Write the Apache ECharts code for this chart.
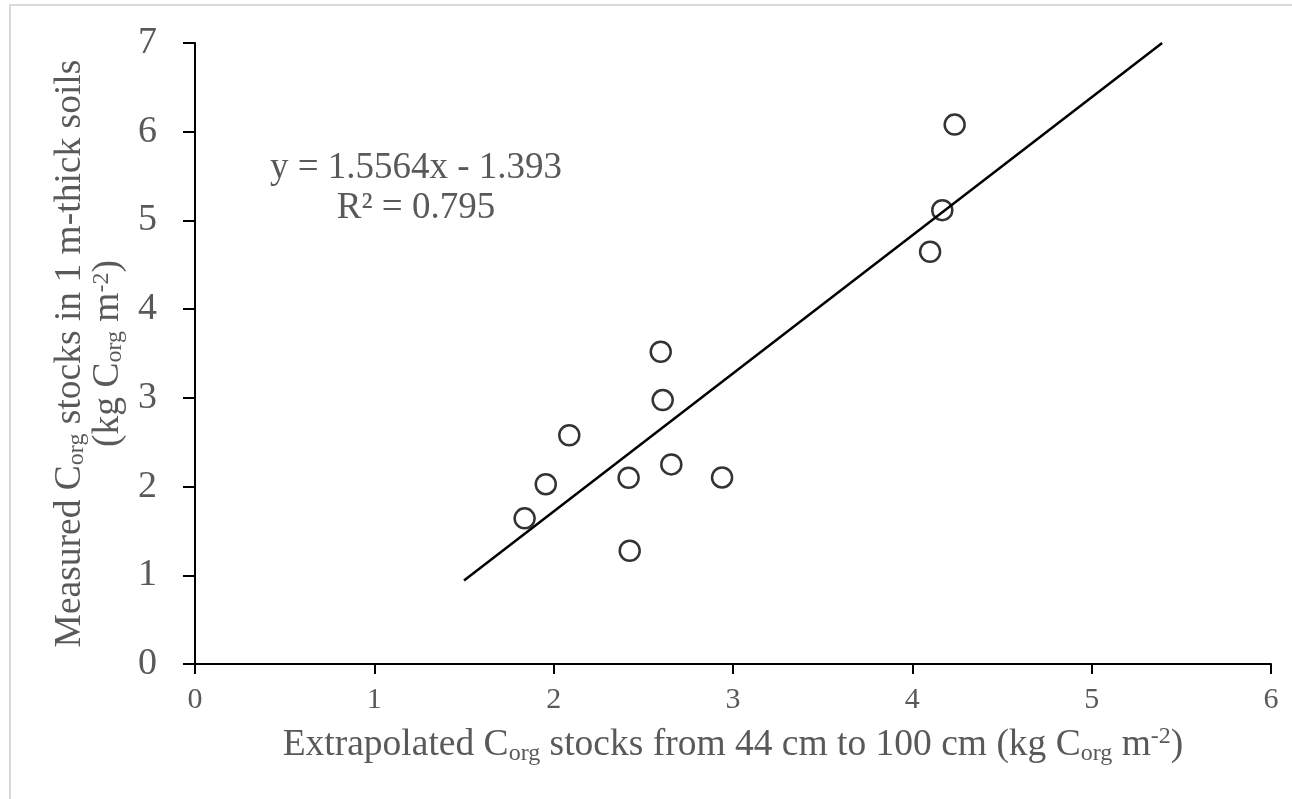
<!DOCTYPE html>
<html>
<head>
<meta charset="utf-8">
<script src="https://cdn.jsdelivr.net/npm/echarts@6/dist/echarts.min.js"></script>
<style>
  html, body { margin: 0; padding: 0; background: #fff; }
  #chart { width: 1292px; height: 799px; }
</style>
</head>
<body>
<div id="chart"></div>
<script>
// measured vs extrapolated stocks
var extrapolated = [1.838, 1.956, 2.087, 2.418, 2.424, 2.597, 2.608, 2.656, 2.939, 4.099, 4.167, 4.236];
var measured     = [1.642, 2.027, 2.579, 2.099, 1.276, 3.520, 2.975, 2.250, 2.103, 4.647, 5.116, 6.080];

// linear trendline as printed on the chart
var slope = 1.5564;
var intercept = -1.393;
var trendX = [1.5, 5.393];

var xTicks = [0, 1, 2, 3, 4, 5, 6];
var yTicks = [0, 1, 2, 3, 4, 5, 6, 7];

var serif = 'Liberation Serif';
var grey = '#595959';

var points = [];
for (var i = 0; i < extrapolated.length; i++) {
    points.push([extrapolated[i], measured[i]]);
}
var trend = trendX.map(function (x) { return [x, slope * x + intercept]; });

var rich = {
    sub: { fontSize: 24, lineHeight: 24, padding: [18, 0, 0, 0], fontFamily: serif, color: grey },
    sup: { fontSize: 24, lineHeight: 24, padding: [0, 0, 16, 0], fontFamily: serif, color: grey }
};
var richY = {
    sub: { fontSize: 24, lineHeight: 24, padding: [14, 0, 0, 0], fontFamily: serif, color: grey },
    sup: { fontSize: 24, lineHeight: 24, padding: [0, 0, 12, 0], fontFamily: serif, color: grey }
};

var myChart = echarts.init(document.getElementById('chart'));
var option = {
    animation: false,
    backgroundColor: '#fff',
    grid: { left: 195, right: 21, top: 43, bottom: 135 },
    xAxis: {
        type: 'value',
        min: xTicks[0],
        max: xTicks[xTicks.length - 1],
        interval: 1,
        splitLine: { show: false },
        axisLine: { onZero: false, lineStyle: { color: '#000', width: 2 } },
        axisTick: { show: true, length: 10, lineStyle: { color: '#000', width: 2 } },
        axisLabel: { margin: 21, fontSize: 30, fontFamily: serif, color: grey },
        name: 'Extrapolated C{sub|org} stocks from 44 cm to 100 cm (kg C{sub|org} m{sup|-2})',
        nameLocation: 'middle',
        nameGap: 60,
        nameTextStyle: { fontSize: 37.5, lineHeight: 42, fontFamily: serif, color: grey, rich: rich }
    },
    yAxis: {
        type: 'value',
        min: yTicks[0],
        max: yTicks[yTicks.length - 1],
        interval: 1,
        splitLine: { show: false },
        axisLine: { show: true, lineStyle: { color: '#000', width: 2 } },
        axisTick: { show: true, length: 12, lineStyle: { color: '#000', width: 2 } },
        axisLabel: { margin: 38, fontSize: 38, fontFamily: serif, color: grey },
        name: 'Measured C{sub|org} stocks in 1 m-thick soils\n(kg C{sub|org} m{sup|-2})',
        nameLocation: 'middle',
        nameGap: 48,
        nameTextStyle: { fontSize: 37.5, lineHeight: 38, fontFamily: serif, color: grey, align: 'center', rich: richY }
    },
    graphic: [
        {
            type: 'rect',
            silent: true,
            shape: { x: 10, y: 5, width: 1320, height: 830 },
            style: { fill: 'none', stroke: '#d9d9d9', lineWidth: 2 }
        },
        {
            type: 'text',
            x: 416,
            y: 168,
            style: {
                text: 'y = 1.5564x - 1.393',
                align: 'center',
                verticalAlign: 'middle',
                font: '37px "Liberation Serif"',
                fill: grey
            }
        },
        {
            type: 'text',
            x: 416,
            y: 208,
            style: {
                text: 'R² = 0.795',
                align: 'center',
                verticalAlign: 'middle',
                font: '37px "Liberation Serif"',
                fill: grey
            }
        }
    ],
    series: [
        {
            type: 'line',
            data: trend,
            symbol: 'none',
            lineStyle: { color: '#000', width: 2.5 },
            z: 2
        },
        {
            type: 'scatter',
            data: points,
            symbol: 'circle',
            symbolSize: 20,
            itemStyle: { color: 'rgba(0,0,0,0)', borderColor: '#000', borderWidth: 2.5 },
            z: 3
        }
    ]
};
myChart.setOption(option);
</script>
</body>
</html>
